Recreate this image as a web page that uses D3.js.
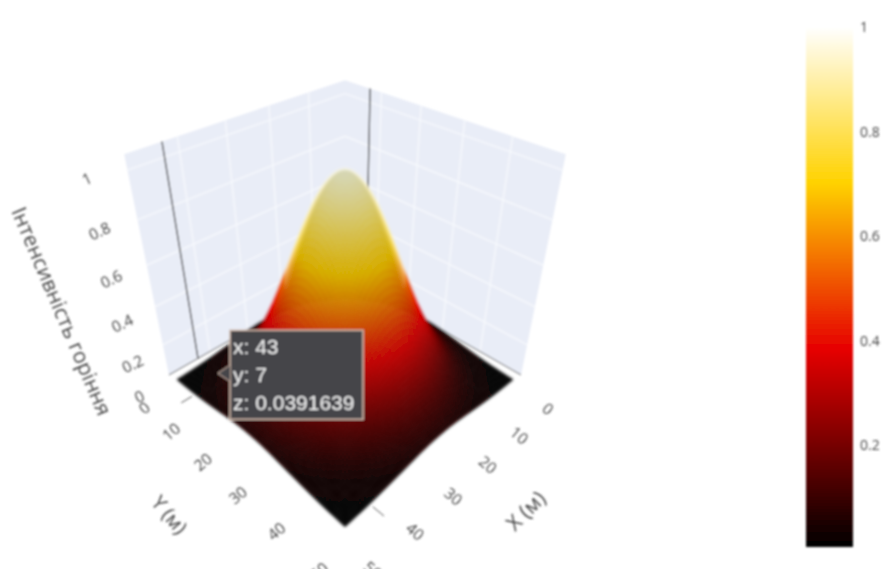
<!DOCTYPE html>
<html>
<head>
<meta charset="utf-8">
<script src="https://cdn.jsdelivr.net/npm/d3@7"></script>
<style>
  html, body { margin: 0; padding: 0; background: #fff; }
  svg { display: block; overflow: hidden; }
  text { font-family: "Open Sans", sans-serif; fill: #444; }
</style>
</head>
<body>
<svg id="chart" width="893" height="569"></svg>
<script>
// Surface samples (peak in the middle, 0.039 at the hover point)
const gridX = [1, 4, 7, 10, 13, 16, 19, 22, 25, 28, 31, 34, 37, 40, 43, 46, 49];
const gridY = [1, 4, 7, 10, 13, 16, 19, 22, 25, 28, 31, 34, 37, 40, 43, 46, 49];
const gridZ = [
  [.003, .006, .011, .018, .027, .037, .047, .054, .056, .054, .047, .037, .027, .018, .011, .006, .003],
  [.006, .012, .022, .036, .054, .073, .092, .105, .110, .105, .092, .073, .054, .036, .022, .012, .006],
  [.011, .022, .039, .064, .096, .132, .165, .189, .198, .189, .165, .132, .096, .064, .039, .022, .011],
  [.018, .036, .064, .106, .158, .217, .271, .311, .325, .311, .271, .217, .158, .106, .064, .036, .018],
  [.027, .054, .096, .158, .237, .325, .407, .466, .487, .466, .407, .325, .237, .158, .096, .054, .027],
  [.037, .073, .132, .217, .325, .445, .557, .638, .667, .638, .557, .445, .325, .217, .132, .073, .037],
  [.047, .092, .165, .271, .407, .557, .697, .798, .835, .798, .697, .557, .407, .271, .165, .092, .047],
  [.054, .105, .189, .311, .466, .638, .798, .914, .956, .914, .798, .638, .466, .311, .189, .105, .054],
  [.056, .110, .198, .325, .487, .667, .835, .956, 1.00, .956, .835, .667, .487, .325, .198, .110, .056],
  [.054, .105, .189, .311, .466, .638, .798, .914, .956, .914, .798, .638, .466, .311, .189, .105, .054],
  [.047, .092, .165, .271, .407, .557, .697, .798, .835, .798, .697, .557, .407, .271, .165, .092, .047],
  [.037, .073, .132, .217, .325, .445, .557, .638, .667, .638, .557, .445, .325, .217, .132, .073, .037],
  [.027, .054, .096, .158, .237, .325, .407, .466, .487, .466, .407, .325, .237, .158, .096, .054, .027],
  [.018, .036, .064, .106, .158, .217, .271, .311, .325, .311, .271, .217, .158, .106, .064, .036, .018],
  [.011, .022, .039, .064, .096, .132, .165, .189, .198, .189, .165, .132, .096, .064, .039, .022, .011],
  [.006, .012, .022, .036, .054, .073, .092, .105, .110, .105, .092, .073, .054, .036, .022, .012, .006],
  [.003, .006, .011, .018, .027, .037, .047, .054, .056, .054, .047, .037, .027, .018, .011, .006, .003]
];
const axisTicks = [0, 10, 20, 30, 40, 50];
const zTicks = [0, 0.2, 0.4, 0.6, 0.8, 1];
const barTicks = [0.2, 0.4, 0.6, 0.8, 1];
const colorStops = [0, 0.38, 0.7, 1];
const colorValues = ["#000000", "#e60000", "#ffd200", "#ffffff"];
const hover = { x: 43, y: 7, z: 0.0391639 };

const svg = d3.select("#chart");
const defs = svg.append("defs");
function addBlur(id, amount) {
  defs.append("filter").attr("id", id)
    .attr("x", 0).attr("y", 0).attr("width", 893).attr("height", 569)
    .attr("filterUnits", "userSpaceOnUse")
    .append("feGaussianBlur").attr("stdDeviation", amount);
}
addBlur("soft", 0.8);
addBlur("softSurface", 1.0);
const root = svg.append("g").attr("filter", "url(#soft)");

const color = d3.scaleLinear().domain(colorStops).range(colorValues).clamp(true);

// Camera for the cube, fitted to the wall corners in the picture
const cam = { cx: 345, cy: 277, dist: 4.88, focal: 676, tilt: 35 * Math.PI / 180 };
const halfZ = 0.96;
const wallBase = 0.03; // the walls stop a little above the surface's zero level
const zTop = 1.06;
const xWorld = d3.scaleLinear().domain([0, 50]).range([-1, 1]);
const yWorld = d3.scaleLinear().domain([0, 50]).range([-1, 1]);
const zWorld = d3.scaleLinear().domain([wallBase, zTop]).range([-halfZ, halfZ]);

function project(x, y, z) {
  const wx = xWorld(x), wy = yWorld(y), wz = zWorld(z);
  const s = (wy - wx) / Math.SQRT2;
  const t = (wx + wy) / Math.SQRT2;
  const w = cam.dist - t * Math.cos(cam.tilt) - wz * Math.sin(cam.tilt);
  const v = -t * Math.sin(cam.tilt) + wz * Math.cos(cam.tilt);
  return [cam.cx + cam.focal * s / w, cam.cy - cam.focal * v / w];
}

const polyLine = d3.line();
function segment(a, b, stroke, width) {
  root.append("path")
    .attr("d", polyLine([project(...a), project(...b)]))
    .attr("fill", "none")
    .attr("stroke", stroke)
    .attr("stroke-width", width);
}

// Walls: y = 0 on the left, x = 0 on the right
const wallFill = "#e9edf7";
[
  [[50, 0, wallBase], [0, 0, wallBase], [0, 0, zTop], [50, 0, zTop]],
  [[0, 50, wallBase], [0, 0, wallBase], [0, 0, zTop], [0, 50, zTop]]
].forEach((corners) => {
  root.append("path")
    .attr("d", polyLine(corners.map((c) => project(...c))) + "Z")
    .attr("fill", wallFill);
});

axisTicks.slice(1, 5).forEach((v) => {
  segment([v, 0, wallBase], [v, 0, zTop], "#f6f8fc", 1.5);
  segment([0, v, wallBase], [0, v, zTop], "#f6f8fc", 1.5);
});
zTicks.slice(1).forEach((v) => {
  segment([50, 0, v], [0, 0, v], "#f6f8fc", 1.5);
  segment([0, 50, v], [0, 0, v], "#f6f8fc", 1.5);
});

// Axis lines along the floor
segment([50, 0, wallBase], [0, 0, wallBase], "#555", 1);
segment([0, 50, wallBase], [0, 0, wallBase], "#555", 1);

// Hover spikes on the two walls
segment([hover.x, 0, wallBase], [hover.x, 0, zTop], "#333", 1.3);
segment([0, hover.y, wallBase], [0, hover.y, zTop], "#333", 1.3);

// Surface: each mesh cell is shaded in sub-quads, like the gradient inside a WebGL mesh cell
const SUB = 6;
const n = gridX.length;
const fineCount = (n - 1) * SUB + 1;
const clampIdx = (i) => Math.max(0, Math.min(n - 1, i));
const catmull = (a, b, c, d, t) =>
  0.5 * (2 * b + (c - a) * t + (2 * a - 5 * b + 4 * c - d) * t * t + (3 * b - a - 3 * c + d) * t * t * t);

function sampleZ(u, v) {
  const iu = Math.min(Math.floor(u), n - 2), iv = Math.min(Math.floor(v), n - 2);
  const tu = u - iu, tv = v - iv;
  const rows = [-1, 0, 1, 2].map((dv) => {
    const row = gridZ[clampIdx(iv + dv)];
    return catmull(row[clampIdx(iu - 1)], row[clampIdx(iu)], row[clampIdx(iu + 1)], row[clampIdx(iu + 2)], tu);
  });
  return Math.max(0, catmull(rows[0], rows[1], rows[2], rows[3], tv));
}

const gridPos = d3.scaleLinear().domain([0, fineCount - 1]).range([gridX[0], gridX[n - 1]]);
const fine = d3.range(fineCount).map((j) =>
  d3.range(fineCount).map((i) => sampleZ(i / SUB, j / SUB))
);

const eye = [
  cam.dist * Math.cos(cam.tilt) / Math.SQRT2,
  cam.dist * Math.cos(cam.tilt) / Math.SQRT2,
  cam.dist * Math.sin(cam.tilt)
];

function shade(i, j) {
  const z = fine[j][i];
  const i0 = Math.max(0, i - 1), i1 = Math.min(fineCount - 1, i + 1);
  const j0 = Math.max(0, j - 1), j1 = Math.min(fineCount - 1, j + 1);
  const dx = xWorld(gridPos(i1)) - xWorld(gridPos(i0));
  const dy = yWorld(gridPos(j1)) - yWorld(gridPos(j0));
  const zx = (zWorld(fine[j][i1]) - zWorld(fine[j][i0])) / dx;
  const zy = (zWorld(fine[j1][i]) - zWorld(fine[j0][i])) / dy;
  const len = Math.hypot(zx, zy, 1);
  const p = [xWorld(gridPos(i)), yWorld(gridPos(j)), zWorld(z)];
  const view = [eye[0] - p[0], eye[1] - p[1], eye[2] - p[2]];
  const vLen = Math.hypot(...view);
  const facing = Math.abs((-zx * view[0] - zy * view[1] + view[2]) / (len * vLen));
  const k = Math.min(1, facing / 0.45);
  const f = 1 - 0.16 * k * k * (3 - 2 * k);
  const c = d3.rgb(color(z));
  const dimmed = d3.rgb(c.r * f, c.g * f, c.b * f * f);
  // bright rim where the hill turns away from the camera, only on the upper part
  const rim = z > 0.55 ? Math.pow(1 - k, 1.5) * 0.85 : 0;
  return d3.interpolateRgb(dimmed, "#fffbe6")(rim);
}

const quads = [];
for (let j = 0; j < fineCount - 1; j++) {
  for (let i = 0; i < fineCount - 1; i++) {
    quads.push({ i, j, depth: i + j });
  }
}
quads.sort((a, b) => a.depth - b.depth);

root.append("g").attr("filter", "url(#softSurface)").selectAll("path")
  .data(quads)
  .join("path")
  .attr("d", (d) => polyLine([
    [d.i, d.j], [d.i + 1, d.j], [d.i + 1, d.j + 1], [d.i, d.j + 1]
  ].map(([i, j]) => project(gridPos(i), gridPos(j), fine[j][i]))) + "Z")
  .attr("fill", (d) => shade(d.i, d.j))
  .attr("stroke", (d) => shade(d.i, d.j))
  .attr("stroke-width", 0.6);

// Short hover marks at the front edges of the floor
segment([hover.x, 49.5, 0], [hover.x, 52, 0], "#555", 1);
segment([49.5, hover.y, 0], [52, hover.y, 0], "#555", 1);

// Tick labels, rotated to follow the scene
function label(pos, txt, angle, size) {
  root.append("text")
    .attr("transform", `translate(${pos[0]},${pos[1]}) rotate(${angle})`)
    .attr("text-anchor", "middle")
    .attr("dominant-baseline", "middle")
    .attr("font-size", size)
    .text(txt);
}

zTicks.forEach((v) => {
  const p = project(50, 0, v);
  // the z and y zeros sit almost on top of each other and read as an "8"
  const nudge = v === 0 ? -5 : 0;
  label([p[0] - 27 - 13 * v + nudge * 0.6, p[1] + 23 - 13 * v + nudge], d3.format("~g")(v), -25, 15.5);
});
axisTicks.forEach((v) => {
  const py = project(50, v, wallBase);
  const yNudge = v === 0 ? 4 : 0;
  label([py[0] - 26 + v * 0.02 + yNudge * 0.6, py[1] + 30 + v * 0.25 + yNudge], String(v), -40, 15.5);
  const px = project(v, 50, wallBase);
  label([px[0] + 26 + v * 0.02, px[1] + 35 + v * 0.13], String(v), 40, 15.5);
});

label([60, 312], "Інтенсивність горіння", 67, 21);
label([168, 516], "Y (м)", 50, 20);
label([527, 512], "X (м)", -45, 21);

// Hover box
const tip = project(hover.x, hover.y, hover.z);
const box = { x: tip[0] + 12, y: tip[1] - 43, w: 133, h: 89 };
const tipG = root.append("g");
tipG.append("rect")
  .attr("x", box.x).attr("y", box.y)
  .attr("width", box.w).attr("height", box.h)
  .attr("fill", "#444449")
  .attr("stroke", "#cdb6a8")
  .attr("stroke-width", 1.6);
tipG.append("path")
  .attr("d", polyLine([[box.x, tip[1] - 8], [tip[0], tip[1]], [box.x, tip[1] + 8]]))
  .attr("fill", "#444449")
  .attr("stroke", "#cdb6a8")
  .attr("stroke-width", 1);
[`x: ${hover.x}`, `y: ${hover.y}`, `z: ${hover.z}`].forEach((txt, i) => {
  tipG.append("text")
    .attr("x", box.x + 3)
    .attr("y", box.y + 24 + i * 28)
    .attr("font-size", 21)
    .style("font-family", "'Liberation Sans', Arial, sans-serif")
    .style("fill", "#f4f4f4")
    .text(txt);
});

// Colour bar
const barScale = d3.scaleLinear().domain([0.005, 1]).range([547, 27]);
const grad = defs.append("linearGradient").attr("id", "barFill")
  .attr("x1", 0).attr("x2", 0).attr("y1", 1).attr("y2", 0);
colorStops.forEach((s, i) => {
  grad.append("stop").attr("offset", s).attr("stop-color", colorValues[i]);
});
root.append("rect")
  .attr("x", 806).attr("width", 47)
  .attr("y", barScale(1)).attr("height", barScale(0.005) - barScale(1))
  .attr("fill", "url(#barFill)");

const barAxis = root.append("g")
  .attr("transform", "translate(853,0)")
  .call(d3.axisRight(barScale).tickValues(barTicks).tickSize(0).tickPadding(7).tickFormat(d3.format("~g")));
barAxis.select(".domain").remove();
barAxis.selectAll("text").attr("font-size", 14).style("font-family", "'Open Sans', sans-serif");
</script>
</body>
</html>
